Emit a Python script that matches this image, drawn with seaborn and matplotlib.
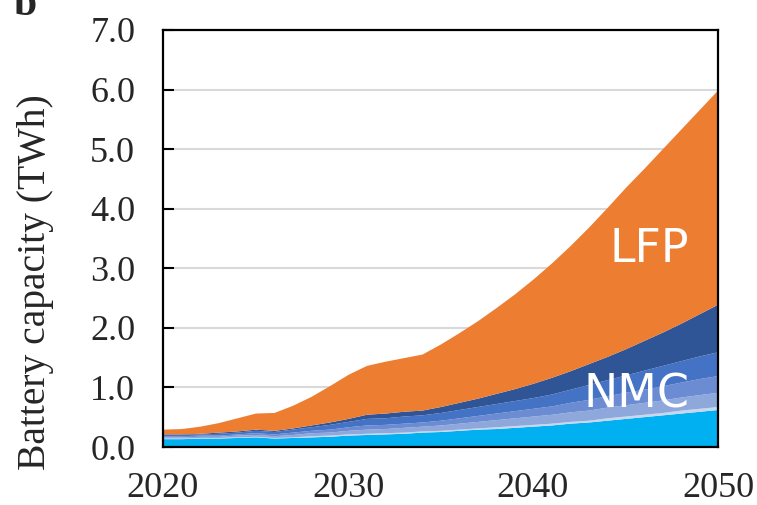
import matplotlib
matplotlib.use("Agg")
import matplotlib.pyplot as plt
import numpy as np
import pandas as pd
import seaborn as sns

years = list(range(2020, 2051))

# individual layer thicknesses (TWh), bottom to top
cyan = [0.14, 0.14, 0.15, 0.15, 0.16, 0.17, 0.15, 0.16, 0.17, 0.18, 0.20,
        0.21, 0.22, 0.23, 0.25, 0.26, 0.28, 0.30, 0.31, 0.33, 0.35,
        0.37, 0.40, 0.42, 0.45, 0.48, 0.51, 0.54, 0.57, 0.60, 0.63]
nmc_pale = [0.01, 0.01, 0.01, 0.01, 0.01, 0.01, 0.01, 0.01, 0.02, 0.02, 0.02,
            0.02, 0.02, 0.02, 0.02, 0.02, 0.02, 0.02, 0.03, 0.03, 0.03,
            0.03, 0.03, 0.03, 0.04, 0.04, 0.04, 0.04, 0.05, 0.05, 0.05]
nmc_lav = [0.02, 0.02, 0.02, 0.02, 0.03, 0.03, 0.03, 0.04, 0.05, 0.05, 0.06,
           0.07, 0.07, 0.08, 0.08, 0.09, 0.10, 0.11, 0.12, 0.13, 0.14,
           0.15, 0.16, 0.17, 0.18, 0.19, 0.20, 0.21, 0.22, 0.23, 0.24]
nmc_peri = [0.02, 0.02, 0.02, 0.02, 0.02, 0.03, 0.03, 0.04, 0.04, 0.05, 0.06,
            0.07, 0.07, 0.07, 0.07, 0.08, 0.09, 0.10, 0.11, 0.12, 0.13,
            0.14, 0.16, 0.18, 0.19, 0.21, 0.22, 0.24, 0.25, 0.27, 0.28]
nmc_blue = [0.02, 0.02, 0.02, 0.03, 0.03, 0.04, 0.04, 0.05, 0.06, 0.08, 0.09,
            0.11, 0.11, 0.12, 0.12, 0.13, 0.14, 0.15, 0.16, 0.17, 0.18,
            0.20, 0.22, 0.25, 0.27, 0.29, 0.32, 0.34, 0.36, 0.38, 0.40]
nmc_navy = [0.01, 0.01, 0.01, 0.02, 0.02, 0.02, 0.02, 0.02, 0.03, 0.04, 0.05,
            0.07, 0.08, 0.08, 0.08, 0.10, 0.12, 0.14, 0.17, 0.20, 0.24,
            0.28, 0.31, 0.35, 0.39, 0.44, 0.50, 0.56, 0.63, 0.71, 0.80]
lfp = [0.08, 0.09, 0.12, 0.16, 0.22, 0.27, 0.30, 0.38, 0.48, 0.61, 0.74,
       0.82, 0.87, 0.90, 0.94, 1.05, 1.17, 1.30, 1.44, 1.59, 1.75,
       1.92, 2.10, 2.29, 2.50, 2.71, 2.89, 3.08, 3.26, 3.43, 3.60]

df = pd.DataFrame({
    "year": years, "cyan": cyan, "pale": nmc_pale, "lav": nmc_lav,
    "peri": nmc_peri, "blue": nmc_blue, "navy": nmc_navy, "LFP": lfp,
})
layer_cols = ["cyan", "pale", "lav", "peri", "blue", "navy", "LFP"]
colors = ["#00B0F0", "#C9D6EF", "#8FA8DC", "#6B8BD2", "#4472C4", "#2F5597", "#ED7D31"]

sns.set_theme(style="white")
plt.rcParams["font.family"] = ["Liberation Serif", "DejaVu Serif"]

fig = plt.figure(figsize=(7.57, 5.05), dpi=100)
ax = fig.add_axes([163 / 757, 1 - 447 / 505, 555 / 757, 417 / 505])

ax.set_axisbelow(True)
for yv in range(1, 7):
    ax.axhline(yv, color="#D9D9D9", lw=1.5, zorder=0)

ax.stackplot(df["year"], [df[c] for c in layer_cols], colors=colors, lw=0, zorder=2)

ax.set_xlim(2020, 2050)
ax.set_ylim(0, 7)
ax.set_xticks([2020, 2030, 2040, 2050])
ax.set_yticks(np.arange(0, 7.01, 1.0))
ax.set_yticklabels([f"{v:.1f}" for v in np.arange(0, 7.01, 1.0)])
ax.tick_params(axis="y", direction="in", length=8, width=1.5, color="black",
               labelsize=26, pad=20, left=True)
ax.tick_params(axis="x", length=0, labelsize=26, pad=18)

for sp in ax.spines.values():
    sp.set_visible(True)
    sp.set_color("black")
    sp.set_linewidth(1.6)
    sp.set_zorder(5)

ax.set_ylabel("Battery capacity (TWh)", fontsize=28.5)
ax.yaxis.label.set_va("center")
ax.yaxis.set_label_coords(-0.229, 0.395)

ax.text(2046.3, 3.31, "LFP", color="white", fontsize=33, family="DejaVu Sans",
        ha="center", va="center", zorder=6)
ax.text(2045.6, 0.88, "NMC", color="white", fontsize=33, family="DejaVu Sans",
        ha="center", va="center", zorder=6)

# panel letter, cut off at the top edge as in the source figure
fig.text(13 / 757, 1 - 15 / 505, "b", fontsize=30, weight="bold",
         ha="left", va="baseline")

fig.savefig("out.png", dpi=100)
